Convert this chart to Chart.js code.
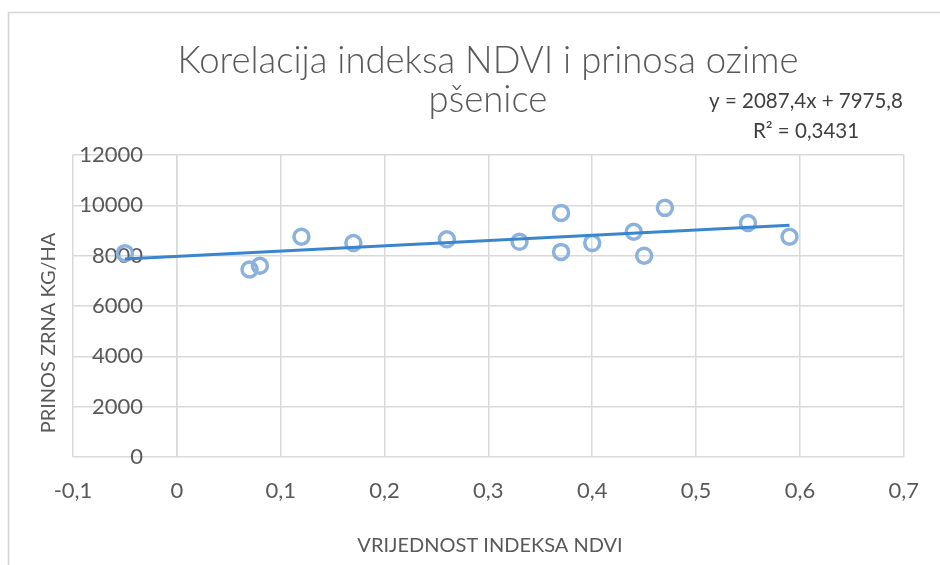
<!DOCTYPE html>
<html>
<head>
<meta charset="utf-8">
<script src="https://cdn.jsdelivr.net/npm/chart.js@4.4.1/dist/chart.umd.min.js"></script>
<style>
  html, body { margin: 0; padding: 0; background: #ffffff; }
  #wrap { width: 940px; height: 565px; position: relative; }
</style>
</head>
<body>
<div id="wrap"><canvas id="c" width="940" height="565"></canvas></div>
<script>
// ---- data ----
const ndviValues = [-0.05, 0.07, 0.08, 0.12, 0.17, 0.26, 0.33, 0.37, 0.37, 0.40, 0.44, 0.45, 0.47, 0.55, 0.59];
const yieldValues = [8100, 7450, 7600, 8750, 8500, 8650, 8550, 9700, 8150, 8500, 8950, 8000, 9900, 9300, 8750];
const xTickLabels = ['-0,1', '0', '0,1', '0,2', '0,3', '0,4', '0,5', '0,6', '0,7'];
const yTickLabels = ['0', '2000', '4000', '6000', '8000', '10000', '12000'];
const titleLines = ['Korelacija indeksa NDVI i prinosa ozime', 'pšenice'];
const xAxisTitle = 'VRIJEDNOST INDEKSA NDVI';
const yAxisTitle = 'PRINOS ZRNA KG/HA';
const trendSlope = 2087.4;
const trendIntercept = 7975.8;
const rSquared = 0.3431;
const trendRange = [-0.05, 0.59];

const fmt = (v, d) => v.toFixed(d).replace('.', ',');
const equationLines = ['y = ' + fmt(trendSlope, 1) + 'x + ' + fmt(trendIntercept, 1), 'R² = ' + fmt(rSquared, 4)];

const points = ndviValues.map((x, i) => ({ x: x, y: yieldValues[i] }));
const trendPoints = trendRange.map(x => ({ x: x, y: trendSlope * x + trendIntercept }));

const FONT = 'Lato, "Open Sans", "DejaVu Sans", sans-serif';
const GRID = '#d9d9d9';

const decorPlugin = {
  id: 'decor',
  beforeDraw(chart) {
    const ctx = chart.ctx;
    ctx.save();
    ctx.strokeStyle = '#d4d4d4';
    ctx.lineWidth = 1.5;
    ctx.beginPath();
    ctx.moveTo(8.5, 565);
    ctx.lineTo(8.5, 12.5);
    ctx.lineTo(940, 12.5);
    ctx.stroke();
    ctx.restore();
  },
  afterDraw(chart) {
    const ctx = chart.ctx;
    ctx.save();
    // title
    ctx.fillStyle = '#595959';
    ctx.textAlign = 'center';
    ctx.textBaseline = 'alphabetic';
    ctx.font = '300 36.5px ' + FONT;
    ctx.fillText(titleLines[0], 488, 73);
    ctx.fillText(titleLines[1], 488, 112);
    // equation
    ctx.fillStyle = '#404040';
    ctx.font = '20.5px ' + FONT;
    ctx.fillText(equationLines[0], 806, 108);
    ctx.fillText(equationLines[1], 806, 138);
    // axis titles
    ctx.fillStyle = '#595959';
    ctx.font = '20px ' + FONT;
    ctx.fillText(xAxisTitle, 490, 552);
    ctx.translate(55, 333);
    ctx.rotate(-Math.PI / 2);
    ctx.fillText(yAxisTitle, 0, 0);
    ctx.restore();
  }
};

new Chart(document.getElementById('c'), {
  type: 'scatter',
  data: {
    datasets: [
      {
        label: 'Trend',
        data: trendPoints,
        showLine: true,
        borderColor: '#3a85cf',
        borderWidth: 3,
        pointRadius: 0,
        fill: false,
        order: 0
      },
      {
        label: 'Prinos',
        data: points,
        pointStyle: 'circle',
        pointRadius: 7.5,
        pointBorderWidth: 3.5,
        borderColor: '#8bb2df',
        backgroundColor: 'rgba(255,255,255,0)',
        order: 1
      }
    ]
  },
  options: {
    responsive: false,
    animation: false,
    devicePixelRatio: 1,
    layout: { padding: { left: 73, right: 33, top: 155, bottom: 0 } },
    plugins: {
      legend: { display: false },
      tooltip: { enabled: false },
      title: { display: false }
    },
    scales: {
      x: {
        type: 'linear',
        position: 'bottom',
        min: -0.1,
        max: 0.7,
        ticks: {
          stepSize: 0.1,
          padding: 21,
          color: '#595959',
          font: { family: FONT, size: 22 },
          callback: (v, i) => xTickLabels[i]
        },
        grid: { color: GRID, lineWidth: 1.5, drawTicks: false },
        border: { display: false },
        afterFit: (s) => { s.height = 108; }
      },
      y: {
        type: 'linear',
        position: { x: 0 },
        min: 0,
        max: 12000,
        ticks: {
          stepSize: 2000,
          padding: 0,
          color: '#595959',
          font: { family: FONT, size: 22 },
          callback: (v, i) => yTickLabels[i] + '      '
        },
        grid: { color: GRID, lineWidth: 1.5, drawTicks: false },
        border: { display: true, color: GRID, width: 1.5 }
      }
    }
  },
  plugins: [decorPlugin]
});
</script>
</body>
</html>
